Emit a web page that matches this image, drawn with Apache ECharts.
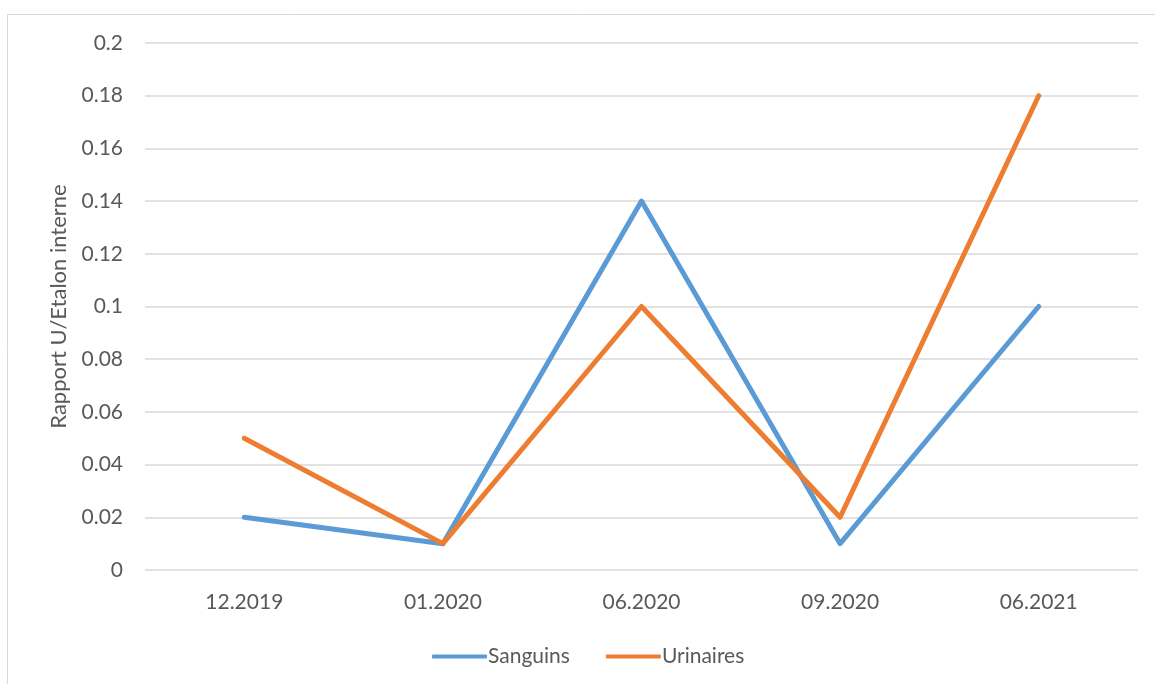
<!DOCTYPE html>
<html><head><meta charset="utf-8">
<script src="https://cdn.jsdelivr.net/npm/echarts@6/dist/echarts.min.js"></script>
<style>html,body{margin:0;padding:0;background:#fff}#c{width:1155px;height:684px}</style>
</head><body><div id="c"></div>
<script>
const categories = ['12.2019', '01.2020', '06.2020', '09.2020', '06.2021'];
const sanguins = [0.02, 0.01, 0.14, 0.01, 0.10];
const urinaires = [0.05, 0.01, 0.10, 0.02, 0.18];
const yTicks = { min: 0, max: 0.2, interval: 0.02 };

const chart = echarts.init(document.getElementById('c'), null, { renderer: 'canvas' });
const font = 'Lato';
chart.setOption({
  animation: false,
  backgroundColor: '#fff',
  graphic: [{
    type: 'rect', shape: { x: 7.5, y: 14.5, width: 1160, height: 700 },
    style: { fill: 'none', stroke: '#d9d9d9', lineWidth: 1 }, silent: true
  }],
  grid: { left: 145, right: 17, top: 43, bottom: 114 },
  legend: {
    top: 641, left: 427, itemWidth: 55, itemHeight: 4, itemGap: 36,
    icon: 'roundRect',
    textStyle: { color: '#595959', fontSize: 21, fontFamily: font, padding: [0,0,0,-4] },
    data: ['Sanguins', 'Urinaires']
  },
  xAxis: {
    type: 'category', data: categories, boundaryGap: true,
    axisLine: { show: false }, axisTick: { show: false },
    axisLabel: { color: '#595959', fontSize: 21, fontFamily: font, margin: 22 }
  },
  yAxis: {
    type: 'value', min: yTicks.min, max: yTicks.max, interval: yTicks.interval,
    name: 'Rapport U/Etalon interne', nameLocation: 'middle', nameGap: 75, nameRotate: 90,
    nameTextStyle: { color: '#595959', fontSize: 22, fontFamily: font },
    axisLine: { show: false }, axisTick: { show: false },
    axisLabel: { color: '#595959', fontSize: 21, fontFamily: font, margin: 22,
      formatter: v => String(parseFloat(v.toFixed(4))) },
    splitLine: { lineStyle: { color: '#d9d9d9', width: 1.5 } }
  },
  series: [
    { name: 'Sanguins', type: 'line', data: sanguins, symbol: 'none',
      lineStyle: { color: '#5b9bd5', width: 5, cap: 'round', join: 'round' }, itemStyle: { color: '#5b9bd5' } },
    { name: 'Urinaires', type: 'line', data: urinaires, symbol: 'none',
      lineStyle: { color: '#ed7d31', width: 5, cap: 'round', join: 'round' }, itemStyle: { color: '#ed7d31' } }
  ]
});
</script></body></html>
